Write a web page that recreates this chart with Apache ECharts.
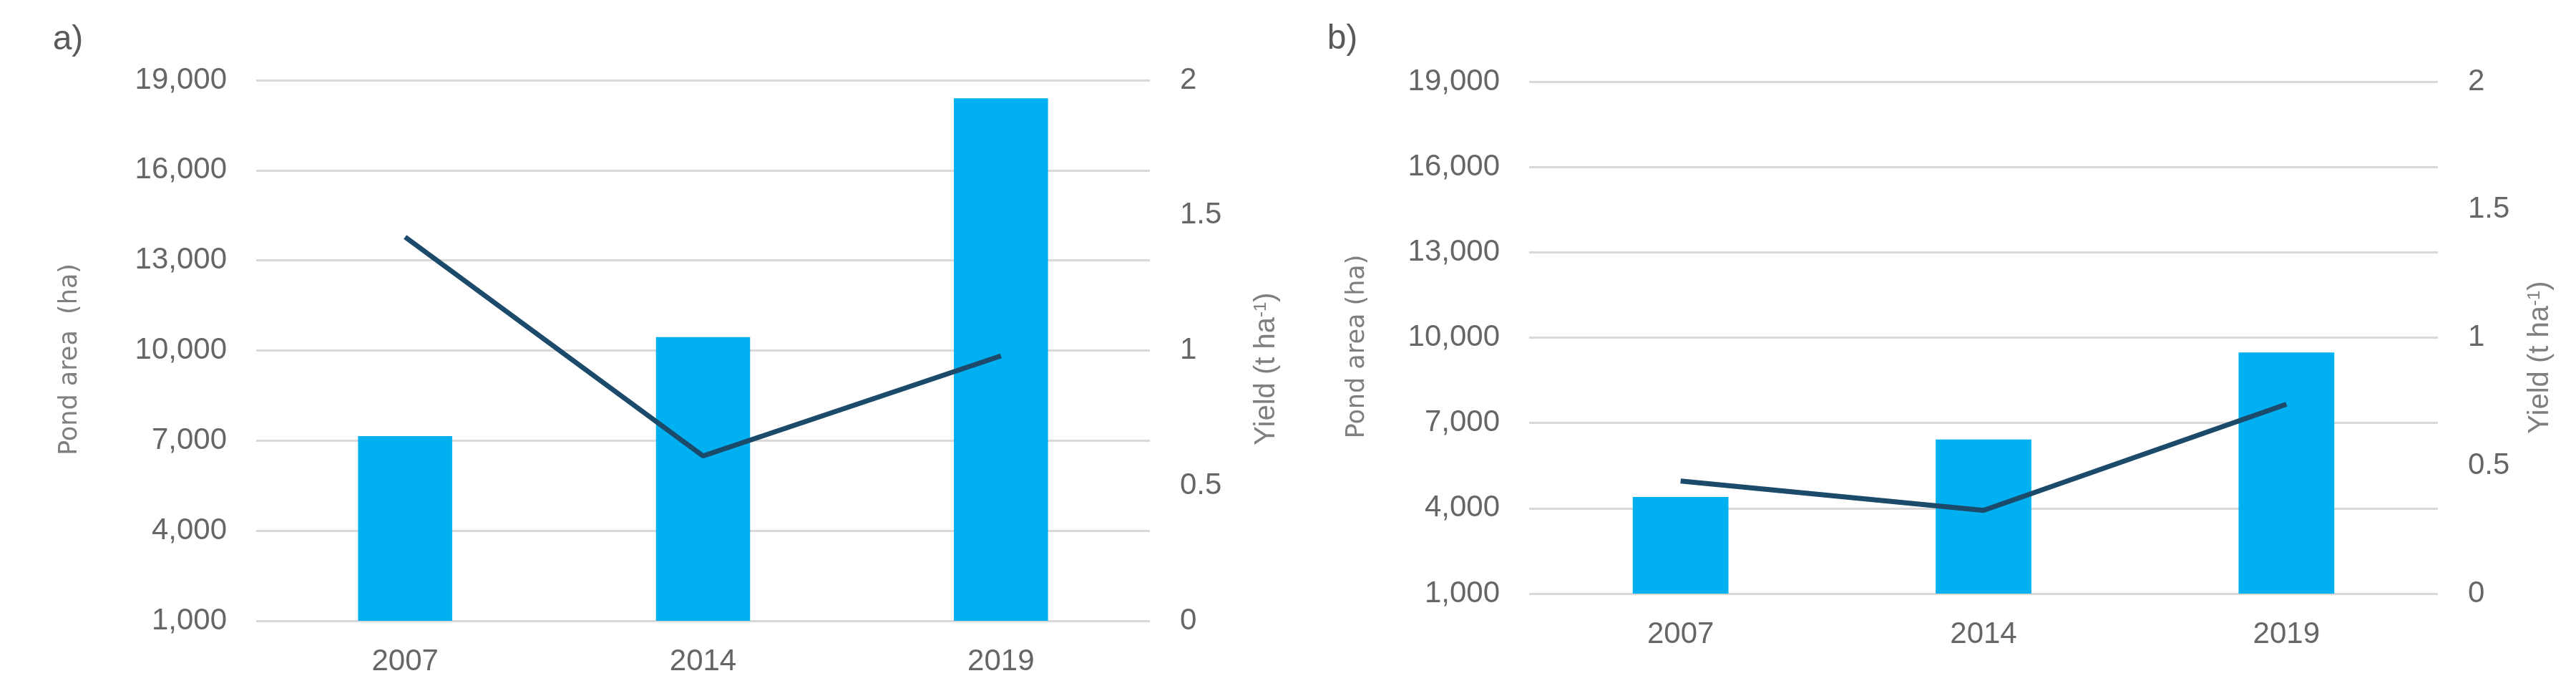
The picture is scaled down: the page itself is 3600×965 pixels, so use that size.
<!DOCTYPE html>
<html>
<head>
<meta charset="utf-8">
<title>Pond area and yield</title>
<script src="https://cdn.jsdelivr.net/npm/echarts@6/dist/echarts.min.js"></script>
<style>
    html, body { margin: 0; padding: 0; background: #ffffff; }
    #main { width: 3600px; height: 965px; }
</style>
</head>
<body>
<div id="main"></div>
<script>
var years = ['2007', '2014', '2019'];
// panel a
var areaA = [7150, 10450, 18400];
var yieldA = [1.42, 0.61, 0.98];
// panel b
var areaB = [4400, 6420, 9480];
var yieldB = [0.44, 0.325, 0.74];

var areaTicks = { min: 1000, max: 19000, interval: 3000 };
var yieldTicks = { min: 0, max: 2, interval: 0.5 };

var tickFont = '"Liberation Sans Narrow", "Liberation Sans", sans-serif';
var textColor = '#666666';

function leftAxis(gridIndex) {
    return {
        type: 'value',
        gridIndex: gridIndex,
        min: areaTicks.min,
        max: areaTicks.max,
        interval: areaTicks.interval,
        axisLine: { show: false },
        axisTick: { show: false },
        splitLine: { lineStyle: { color: '#d9d9d9', width: 3 } },
        axisLabel: {
            margin: 41,
            color: textColor,
            fontFamily: tickFont,
            fontSize: 42,
            formatter: function (v) {
                return v.toLocaleString('en-US');
            }
        }
    };
}
function rightAxis(gridIndex) {
    return {
        type: 'value',
        gridIndex: gridIndex,
        position: 'right',
        min: yieldTicks.min,
        max: yieldTicks.max,
        interval: yieldTicks.interval,
        axisLine: { show: false },
        axisTick: { show: false },
        splitLine: { show: false },
        axisLabel: {
            margin: 42,
            color: textColor,
            fontFamily: tickFont,
            fontSize: 42
        }
    };
}
function catAxis(gridIndex) {
    return {
        type: 'category',
        gridIndex: gridIndex,
        data: years,
        axisLine: { show: false },
        axisTick: { show: false },
        axisLabel: {
            margin: 36,
            color: textColor,
            fontFamily: tickFont,
            fontSize: 42
        }
    };
}
function pondName(x, y, label) {
    return {
        type: 'text',
        x: x,
        y: y,
        rotation: Math.PI / 2,
        style: {
            text: label,
            fill: '#7f7f7f',
            font: '35px "DejaVu Sans", sans-serif',
            align: 'center',
            verticalAlign: 'middle'
        }
    };
}
function yieldName(x, y) {
    return {
        type: 'text',
        x: x,
        y: y,
        rotation: Math.PI / 2,
        style: {
            text: '{a|Yield (t ha}{s|-1}{a|)}',
            align: 'center',
            verticalAlign: 'middle',
            rich: {
                a: { fontFamily: tickFont, fontSize: 40, fill: '#7f7f7f', verticalAlign: 'bottom' },
                s: { fontFamily: tickFont, fontSize: 24, fill: '#7f7f7f', verticalAlign: 'top', padding: [0, 0, 14, 0] }
            }
        }
    };
}
function panelTag(x, y, label) {
    return {
        type: 'text',
        x: x,
        y: y,
        style: {
            text: label,
            fill: '#595959',
            font: '48px "Liberation Sans Narrow", "Liberation Sans", sans-serif',
            align: 'center',
            verticalAlign: 'middle'
        }
    };
}

var chart = echarts.init(document.getElementById('main'));
var option = {
    backgroundColor: '#ffffff',
    animation: false,
    grid: [
        { left: 358, top: 112, width: 1249, height: 755 },
        { left: 2137, top: 114, width: 1270, height: 715 }
    ],
    xAxis: [catAxis(0), catAxis(1)],
    yAxis: [leftAxis(0), rightAxis(0), leftAxis(1), rightAxis(1)],
    graphic: [
        panelTag(95, 56, 'a)'),
        panelTag(1876, 55, 'b)'),
        pondName(98, 502, 'Pond area  (ha)'),
        pondName(1897, 484, 'Pond area (ha)'),
        yieldName(1770, 515),
        yieldName(3550, 499)
    ],
    series: [
        {
            name: 'Pond area a',
            type: 'bar',
            xAxisIndex: 0,
            yAxisIndex: 0,
            barWidth: '31.6%',
            itemStyle: { color: '#00b0f0' },
            data: areaA
        },
        {
            name: 'Yield a',
            type: 'line',
            xAxisIndex: 0,
            yAxisIndex: 1,
            showSymbol: false,
            lineStyle: { color: '#1b4a6b', width: 7 },
            data: yieldA
        },
        {
            name: 'Pond area b',
            type: 'bar',
            xAxisIndex: 1,
            yAxisIndex: 2,
            barWidth: '31.6%',
            itemStyle: { color: '#00b0f0' },
            data: areaB
        },
        {
            name: 'Yield b',
            type: 'line',
            xAxisIndex: 1,
            yAxisIndex: 3,
            showSymbol: false,
            lineStyle: { color: '#1b4a6b', width: 7 },
            data: yieldB
        }
    ]
};
chart.setOption(option);
</script>
</body>
</html>
